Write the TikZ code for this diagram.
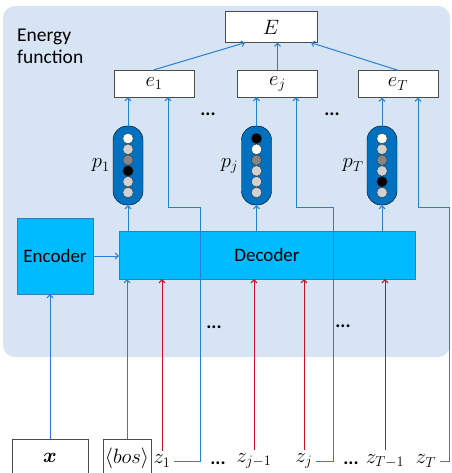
\documentclass[tikz,border=0pt]{standalone}
\usepackage{amsmath, amssymb}
\usepackage{fontspec}
\setsansfont{Carlito}
\usepackage{xcolor}
\usepackage{tikz}
\usetikzlibrary{calc, arrows.meta, positioning}

\definecolor{bgblue}{RGB}{214,228,243}
\definecolor{cellblue}{RGB}{0,187,255}
\definecolor{cellborder}{RGB}{60,120,190}
\definecolor{pillblue}{RGB}{0,112,192}
\definecolor{wireblue}{RGB}{40,128,214}
\definecolor{wirered}{RGB}{200,16,30}
\colorlet{plight}{black!18}
\colorlet{pmid}{black!48}

\tikzset{
    ebox/.style={draw=black!70, fill=white, minimum width=80pt, minimum height=27pt,
        inner sep=0pt, font=\fontsize{20.74}{24}\selectfont},
    cell/.style={draw=cellborder, fill=cellblue, inner sep=0pt,
        font=\sffamily\fontsize{19}{22}\selectfont},
    pill/.style={draw=black, fill=pillblue, rounded corners=14pt,
        minimum width=30pt, minimum height=79pt, inner sep=0pt},
    prob/.style={circle, draw=black!80, minimum size=10.5pt, inner sep=0pt},
    inbox/.style={draw=black!70, fill=white, minimum height=38pt, inner sep=0pt,
        font=\fontsize{20.74}{24}\selectfont},
    zlab/.style={inner sep=1pt, outer sep=3pt, font=\fontsize{20.74}{24}\selectfont},
    plab/.style={inner sep=1pt, font=\fontsize{20.74}{24}\selectfont},
    dotlab/.style={font=\sffamily\bfseries\fontsize{19}{22}\selectfont},
    wire/.style={draw=wireblue, line width=1pt, ->},
    redwire/.style={draw=wirered, line width=1pt, ->},
}

\begin{document}
\begin{tikzpicture}[x=1pt, y=-1pt, >={Straight Barb[length=3pt, width=6pt]}]
    \useasboundingbox (0,0) rectangle (451,473);
    \clip (0,0) rectangle (451,473);

    % Background of the energy function
    \fill[bgblue, rounded corners=12pt] (3,6) rectangle (450,357);
    \node[anchor=north west, align=left, inner sep=0pt,
        font=\sffamily\fontsize{19.5}{22}\selectfont] (title) at (17,28.5) {Energy\\function};

    % Energy boxes
    \node[ebox, minimum width=92pt, minimum height=31pt] (E) at (271,27) {$E$};
    \node[ebox] (e1) at (154,83.5) {$e_1$};
    \node[ebox] (ej) at (277.5,83.5) {$e_j$};
    \node[ebox] (eT) at (398,84) {$e_T$};

    % Probability vectors
    \node[pill] (p1) at (128,165.5) {};
    \node[pill] (pj) at (256.5,165.5) {};
    \node[pill] (pT) at (382,165.5) {};
    \foreach \c [count=\i] in {white,plight,pmid,black,plight,plight}
        \node[prob, fill=\c] (p1c\i) at ($(p1)+(0,{-27+10.8*(\i-1)})$) {};
    \foreach \c [count=\i] in {black,white,pmid,plight,plight,plight}
        \node[prob, fill=\c] (pjc\i) at ($(pj)+(0,{-27+10.8*(\i-1)})$) {};
    \foreach \c [count=\i] in {white,plight,pmid,plight,black,plight}
        \node[prob, fill=\c] (pTc\i) at ($(pT)+(0,{-27+10.8*(\i-1)})$) {};
    \node[plab, left=2pt of p1] (lp1) {$p_1$};
    \node[plab, left=2pt of pj] (lpj) {$p_j$};
    \node[plab, left=2pt of pT] (lpT) {$p_T$};

    % Encoder and decoder
    \node[cell, minimum width=76pt, minimum height=76pt] (enc) at (55,256) {Encoder};
    \node[cell, minimum width=296pt, minimum height=48pt] (dec) at (267,255) {Decoder};

    % Inputs
    \node[inbox, minimum width=76pt, anchor=north] (xin) at (50,439) {$\boldsymbol{x}$};
    \node[inbox, minimum width=48pt, anchor=north] (bos) at (127,439) {$\langle bos\rangle$};
    \node[zlab] (z1) at (162,461) {$z_1$};
    \node[zlab] (zj1) at (254,461) {$z_{j-1}$};
    \node[zlab] (zj) at (304,461) {$z_j$};
    \node[zlab] (zT1) at (385,461) {$z_{T-1}$};
    \node[zlab] (zT) at (426,461) {$z_T$};

    % Dots
    \node[dotlab] (dt1) at (208,114) {...};
    \node[dotlab] (dt2) at (332,114) {...};
    \node[dotlab] (dm1) at (214,327) {...};
    \node[dotlab] (dm2) at (343,326) {...};
    \node[dotlab] (db1) at (218,463) {...};
    \node[dotlab] (db2) at (351,463) {...};

    % Connections
    \draw[wire] (e1.north) -- ([xshift=-26pt]E.south);
    \draw[wire] (ej.north) -- (ej.north |- E.south);
    \draw[wire] (eT.north) -- ([xshift=40pt]E.south);
    \foreach \p/\e in {p1/e1, pj/ej, pT/eT} {
        \draw[wire] (\p.north) -- (\p.north |- \e.south);
        \draw[wire] (\p.south |- dec.north) -- (\p.south);
    }
    \draw[wire] (enc.east) -- (enc.east -| dec.west);
    \draw[wire] (xin.north) -- (xin.north |- enc.south);
    \draw[wire] (bos.north) -- (bos.north |- dec.south);
    \foreach \z in {z1, zj1, zj, zT1}
        \draw[redwire] (\z.north) -- (\z.north |- dec.south);
    \draw[wire] (z1.east) -| (200,207) -| ([xshift=14pt]e1.south);
    \draw[wire] (zj.east) -| (333,207) -| ([xshift=18.5pt]ej.south);
    \draw[wire] (zT.east) -| (449,207) -| ([xshift=20pt]eT.south);
\end{tikzpicture}
\end{document}
